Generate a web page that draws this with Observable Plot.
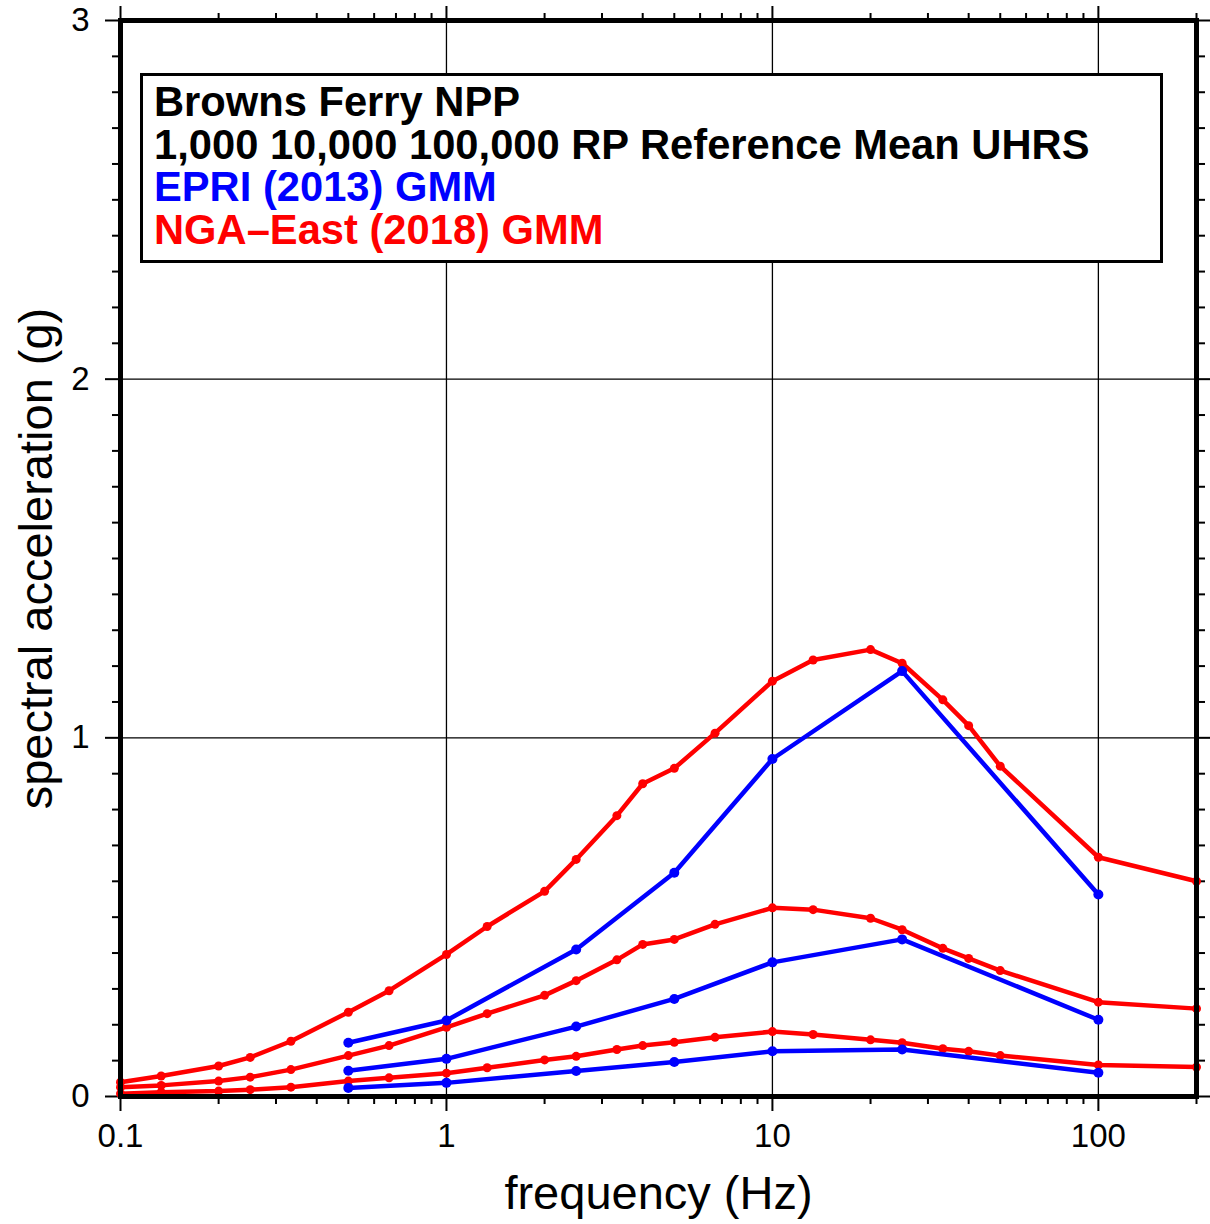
<!DOCTYPE html>
<html>
<head>
<meta charset="utf-8">
<script src="https://cdn.jsdelivr.net/npm/d3@7"></script>
<script src="https://cdn.jsdelivr.net/npm/@observablehq/plot@0.6"></script>
<style>
  html, body { margin: 0; padding: 0; background: white; }
  #wrap { position: relative; width: 1210px; height: 1224px; font-family: "Liberation Sans", Arial, Helvetica, sans-serif; }
  #legend { position: absolute; left: 140px; top: 73px; width: 1006px; height: 179px; border: 3px solid black; background: white; padding: 5px 0 0 11px; box-sizing: content-box; font-weight: bold; font-size: 41.7px; line-height: 42.5px; white-space: nowrap; }
</style>
</head>
<body>
<div id="wrap"></div>
<script>
// ---- data ----
const freqNGA = [0.1, 0.1333, 0.2, 0.25, 0.3333, 0.5, 0.6667, 1, 1.333, 2, 2.5, 3.333, 4, 5, 6.667, 10, 13.33, 20, 25, 33.33, 40, 50, 100, 200];
const nga1k   = [0.008, 0.012, 0.015, 0.019, 0.026, 0.043, 0.052, 0.065, 0.080, 0.102, 0.112, 0.131, 0.142, 0.151, 0.165, 0.181, 0.173, 0.158, 0.150, 0.133, 0.126, 0.114, 0.088, 0.082];
const nga10k  = [0.026, 0.031, 0.043, 0.054, 0.075, 0.114, 0.142, 0.193, 0.231, 0.282, 0.323, 0.381, 0.424, 0.438, 0.480, 0.526, 0.521, 0.497, 0.465, 0.413, 0.385, 0.351, 0.263, 0.245];
const nga100k = [0.040, 0.057, 0.085, 0.109, 0.154, 0.235, 0.295, 0.396, 0.474, 0.572, 0.661, 0.783, 0.872, 0.915, 1.013, 1.158, 1.217, 1.246, 1.208, 1.106, 1.034, 0.921, 0.667, 0.600];

const freqEPRI = [0.5, 1, 2.5, 5, 10, 25, 100];
const epri1k   = [0.024, 0.038, 0.071, 0.096, 0.126, 0.131, 0.066];
const epri10k  = [0.072, 0.105, 0.195, 0.272, 0.374, 0.438, 0.214];
const epri100k = [0.150, 0.212, 0.410, 0.624, 0.941, 1.186, 0.563];

const xMajorTicks = [0.1, 1, 10, 100];
const xTickLabels = ["0.1", "1", "10", "100"];
const xMinorTicks = [0.2,0.3,0.4,0.5,0.6,0.7,0.8,0.9, 2,3,4,5,6,7,8,9, 20,30,40,50,60,70,80,90, 200];
const yMajorTicks = [0, 1, 2, 3];
const yMinorTicks = [0.1,0.2,0.3,0.4,0.5,0.6,0.7,0.8,0.9,1.1,1.2,1.3,1.4,1.5,1.6,1.7,1.8,1.9,2.1,2.2,2.3,2.4,2.5,2.6,2.7,2.8,2.9];
const yGridLines = [1, 2];

const titleLines = ["Browns Ferry NPP", "1,000 10,000 100,000 RP Reference Mean UHRS"];
const legendLabels = ["EPRI (2013) GMM", "NGA\u2013East (2018) GMM"];
const RED = "#f00", BLUE = "#00f";

// ---- tidy tables ----
function rows(freqs, vals, model, rp) { return freqs.map((f, i) => ({f, v: vals[i], model, rp})); }
const ngaRows = [...rows(freqNGA, nga1k, "NGA", "1k"), ...rows(freqNGA, nga10k, "NGA", "10k"), ...rows(freqNGA, nga100k, "NGA", "100k")];
const epriRows = [...rows(freqEPRI, epri1k, "EPRI", "1k"), ...rows(freqEPRI, epri10k, "EPRI", "10k"), ...rows(freqEPRI, epri100k, "EPRI", "100k")];

const fmtX = d => xTickLabels[xMajorTicks.indexOf(d)];
const blank = () => "";

const chart = Plot.plot({
  width: 1210,
  height: 1224,
  marginLeft: 120,
  marginRight: 14,
  marginTop: 20,
  marginBottom: 128,
  x: {type: "log", domain: [0.1, 200], axis: null},
  y: {domain: [0, 3], axis: null},
  style: {fontFamily: "'Liberation Sans', Arial, Helvetica, sans-serif", background: "white", color: "black"},
  marks: [
    Plot.gridX(xMajorTicks, {stroke: "black", strokeOpacity: 1, strokeWidth: 1.3}),
    Plot.gridY(yGridLines, {stroke: "black", strokeOpacity: 1, strokeWidth: 1.3}),
    // bottom axis
    Plot.axisX({anchor: "bottom", ticks: xMinorTicks, tickSize: 8, strokeWidth: 2, tickFormat: blank, label: null}),
    Plot.axisX({anchor: "bottom", ticks: xMajorTicks, tickSize: 15, strokeWidth: 2, tickPadding: 12, tickFormat: fmtX, fontSize: 33,
      label: "frequency (Hz)", labelAnchor: "center", labelArrow: "none", labelOffset: 112}),
    // top axis (ticks only)
    Plot.axisX({anchor: "top", ticks: xMinorTicks, tickSize: 8, strokeWidth: 2, tickFormat: blank, label: null}),
    Plot.axisX({anchor: "top", ticks: xMajorTicks, tickSize: 15, strokeWidth: 2, tickFormat: blank, label: null}),
    // left axis
    Plot.axisY({anchor: "left", ticks: yMinorTicks, tickSize: 8, strokeWidth: 2, tickFormat: blank, label: null}),
    Plot.axisY({anchor: "left", ticks: yMajorTicks, tickSize: 15, strokeWidth: 2, tickPadding: 16, tickFormat: d => String(d), fontSize: 33,
      label: "spectral acceleration (g)", labelAnchor: "center", labelArrow: "none", labelOffset: 102}),
    // right axis (ticks only)
    Plot.axisY({anchor: "right", ticks: yMinorTicks, tickSize: 8, strokeWidth: 2, tickFormat: blank, label: null}),
    Plot.axisY({anchor: "right", ticks: yMajorTicks, tickSize: 15, strokeWidth: 2, tickFormat: blank, label: null}),
    // data
    Plot.line(ngaRows, {x: "f", y: "v", z: "rp", stroke: RED, strokeWidth: 4.5}),
    Plot.dot(ngaRows, {x: "f", y: "v", r: 4.5, fill: RED}),
    Plot.line(epriRows, {x: "f", y: "v", z: "rp", stroke: BLUE, strokeWidth: 4.5}),
    Plot.dot(epriRows, {x: "f", y: "v", r: 5, fill: BLUE}),
    Plot.frame({stroke: "black", strokeWidth: 5})
  ]
});

// axis-label font sizes
chart.querySelectorAll("text").forEach(t => {
  const s = t.textContent;
  if (s === "frequency (Hz)" || s === "spectral acceleration (g)") t.setAttribute("font-size", 47);
});

const wrap = document.getElementById("wrap");
wrap.appendChild(chart);

const legend = document.createElement("div");
legend.id = "legend";
legend.innerHTML =
  `<div>${titleLines[0]}</div><div>${titleLines[1]}</div>` +
  `<div style="color:${BLUE}">${legendLabels[0]}</div><div style="color:${RED}">${legendLabels[1]}</div>`;
wrap.appendChild(legend);
</script>
</body>
</html>
